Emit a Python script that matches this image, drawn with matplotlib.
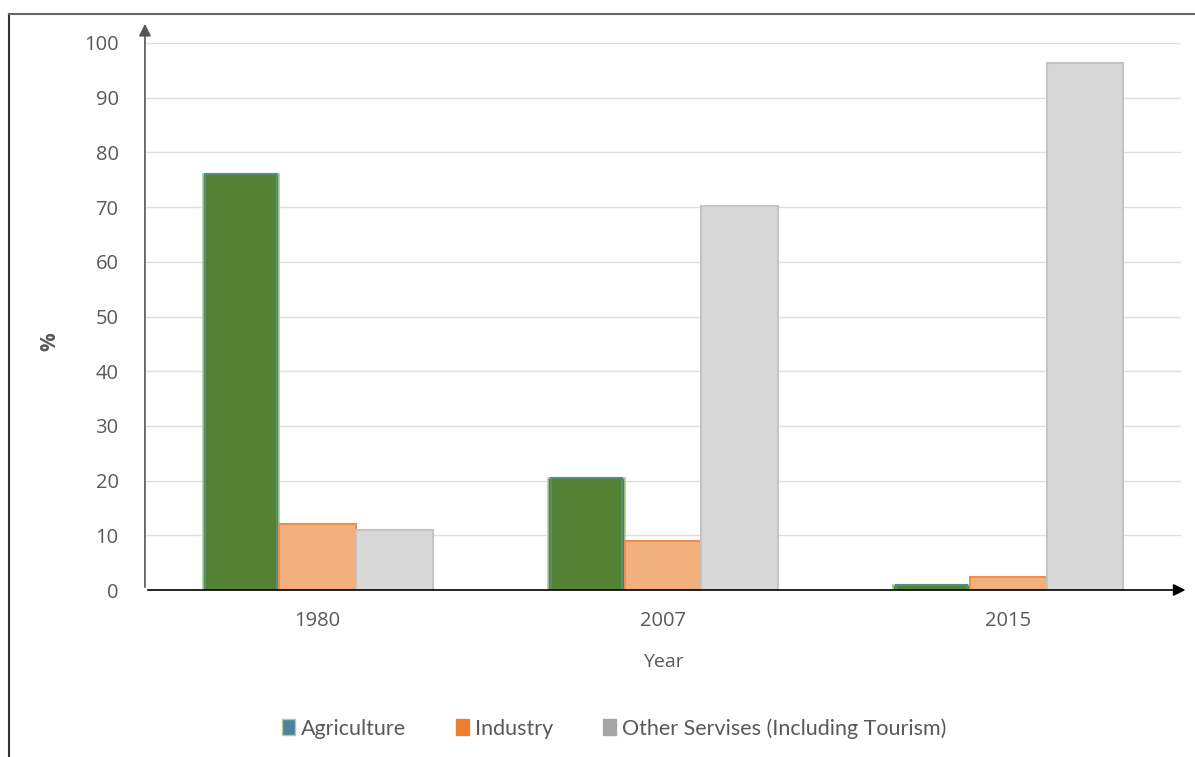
import matplotlib.pyplot as plt
from matplotlib.patches import Patch
import numpy as np

years = ['1980', '2007', '2015']
agriculture = [76, 20.5, 1]
industry = [12, 9, 2.4]
other = [11, 70.2, 96.4]
series_names = ['Agriculture', 'Industry', 'Other Servises (Including Tourism)']

text_col = '#595959'

fig = plt.figure(figsize=(11.95, 7.57), dpi=100)
ax = fig.add_axes([0.1213, 0.2206, 0.867, 0.7226])

x = np.arange(len(years))
w = 0.222

ax.bar(x - w, agriculture, w, color='#548235', edgecolor='#a9d18e', linewidth=1.2, zorder=3)
ax.bar(x - w, agriculture, w * 0.93, color='none', edgecolor='#5a8a78', linewidth=1.5, zorder=3)
ax.bar(x, industry, w, color='#f2b07f', edgecolor='#ee8d4e', linewidth=1.5, zorder=3)
ax.bar(x + w, other, w, color='#d8d8d8', edgecolor='#c4c4c4', linewidth=1.5, zorder=3)

ax.set_xlim(-0.5, 2.5)
ax.set_ylim(0, 100)
ax.set_yticks(range(0, 101, 10))
ax.set_xticks(x)
ax.set_xticklabels(years)
ax.yaxis.grid(True, color='#e0e0e0', linewidth=1, zorder=0)
ax.set_axisbelow(True)
for s in ax.spines.values():
    s.set_visible(False)
ax.tick_params(length=0, labelsize=14.5, labelcolor=text_col)
ax.tick_params(axis='y', pad=19)
ax.tick_params(axis='x', pad=15)
for lab in ax.get_xticklabels() + ax.get_yticklabels():
    lab.set_fontfamily('Open Sans')

ax.set_xlabel('Year', fontsize=14, color=text_col, family='Open Sans', labelpad=16)
fig.text(50 / 1195, 1 - 342 / 757, '%', rotation=90, fontsize=15, color=text_col,
         family='Open Sans', fontweight='bold', ha='center', va='center')

# axis arrows
ax.annotate('', xy=(1.007, 0), xycoords='axes fraction', xytext=(0, 0),
            arrowprops=dict(arrowstyle='-|>', color='black', lw=1.2, mutation_scale=18), annotation_clip=False)
ax.annotate('', xy=(0, 1.04), xycoords='axes fraction', xytext=(0, 0),
            arrowprops=dict(arrowstyle='-|>', color='#555555', lw=1.2, mutation_scale=18), annotation_clip=False)

# outer frame (left and top)
fig.add_artist(plt.Line2D([9 / 1195, 9 / 1195], [0, 1 - 14 / 757], color='#333333', lw=1.5))
fig.add_artist(plt.Line2D([9 / 1195, 1], [1 - 14 / 757, 1 - 14 / 757], color='#666666', lw=1.5))

handles = [Patch(facecolor='#4f81a0', edgecolor='#a9d18e', linewidth=1),
           Patch(facecolor='#ed7d31', edgecolor='#ed7d31'),
           Patch(facecolor='#a5a5a5', edgecolor='#a5a5a5')]
leg = fig.legend(handles, series_names, loc='center', bbox_to_anchor=(0.514, 0.038), ncol=3,
                 frameon=False, handlelength=0.6, handleheight=0.7,
                 handletextpad=0.3, columnspacing=2.3, prop={'family': 'Lato', 'size': 15.5})
for t in leg.get_texts():
    t.set_color(text_col)

fig.savefig('out.png', dpi=100)
